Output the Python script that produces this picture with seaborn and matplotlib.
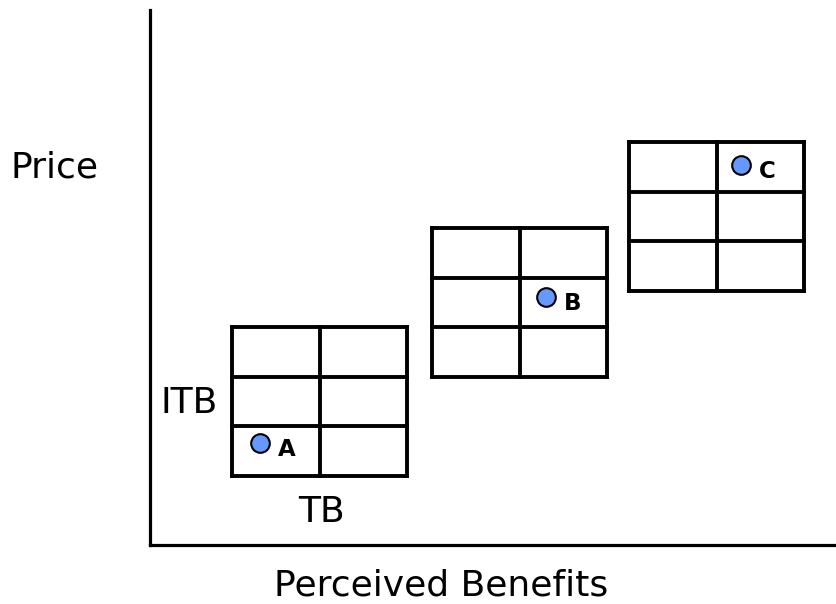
import matplotlib
matplotlib.use("Agg")
import matplotlib.pyplot as plt
import seaborn as sns
import pandas as pd

sns.set_theme(style="white")
plt.rcParams['font.family'] = ['DejaVu Sans']
plt.rcParams['text.color'] = 'black'

# Data (units: benefit / price, origin at axis corner)
grid_names = ["A", "B", "C"]
grid_left = [82, 282, 479]
grid_bottom = [69, 168, 254]
grid_width = [175, 175, 175]
grid_height = [149, 149, 149]
grid_cols = 2
grid_rows = 3

point_labels = ["A", "B", "C"]
point_x = [110, 396, 591]
point_y = [102, 248, 380]

W, H = 836, 604
fig = plt.figure(figsize=(W / 100, H / 100), dpi=100)
ax = fig.add_axes([150 / W, (H - 545) / H, (W - 150) / W, (545 - 10) / H])
ax.set_xlim(0, 686)
ax.set_ylim(0, 535)
ax.set_xticks([])
ax.set_yticks([])
for s in ["top", "right"]:
    ax.spines[s].set_visible(False)
for s in ["left", "bottom"]:
    ax.spines[s].set_color("black")
    ax.spines[s].set_linewidth(2.3)

lw = 2.8
for gl, gb, gw, gh in zip(grid_left, grid_bottom, grid_width, grid_height):
    for i in range(grid_cols + 1):
        x = gl + gw * i / grid_cols
        ax.plot([x, x], [gb, gb + gh], color="black", lw=lw, solid_capstyle="projecting")
    for j in range(grid_rows + 1):
        y = gb + gh * j / grid_rows
        ax.plot([gl, gl + gw], [y, y], color="black", lw=lw, solid_capstyle="projecting")

df = pd.DataFrame({"x": point_x, "y": point_y, "label": point_labels})
sns.scatterplot(data=df, x="x", y="y", ax=ax, s=180, color="#6699FF",
                edgecolor="black", linewidth=1.5, zorder=5, legend=False)
for _, r in df.iterrows():
    ax.annotate(r["label"], (r["x"], r["y"]), xytext=(13, -5), textcoords="offset points",
                ha="left", va="center", fontsize=16.5, fontweight="bold", color="black")
ax.set_xlabel("")
ax.set_ylabel("")

fs = 26
fig.text(10 / W, 1 - 177 / H, "Price", fontsize=fs, ha="left", va="baseline")
fig.text(441 / W, 1 - 595 / H, "Perceived Benefits", fontsize=fs, ha="center", va="baseline")
fig.text(189 / W, 1 - 413 / H, "ITB", fontsize=fs, ha="center", va="baseline")
fig.text(321 / W, 1 - 522 / H, "TB", fontsize=fs, ha="center", va="baseline")

fig.savefig("out.png", dpi=100, facecolor="white")
